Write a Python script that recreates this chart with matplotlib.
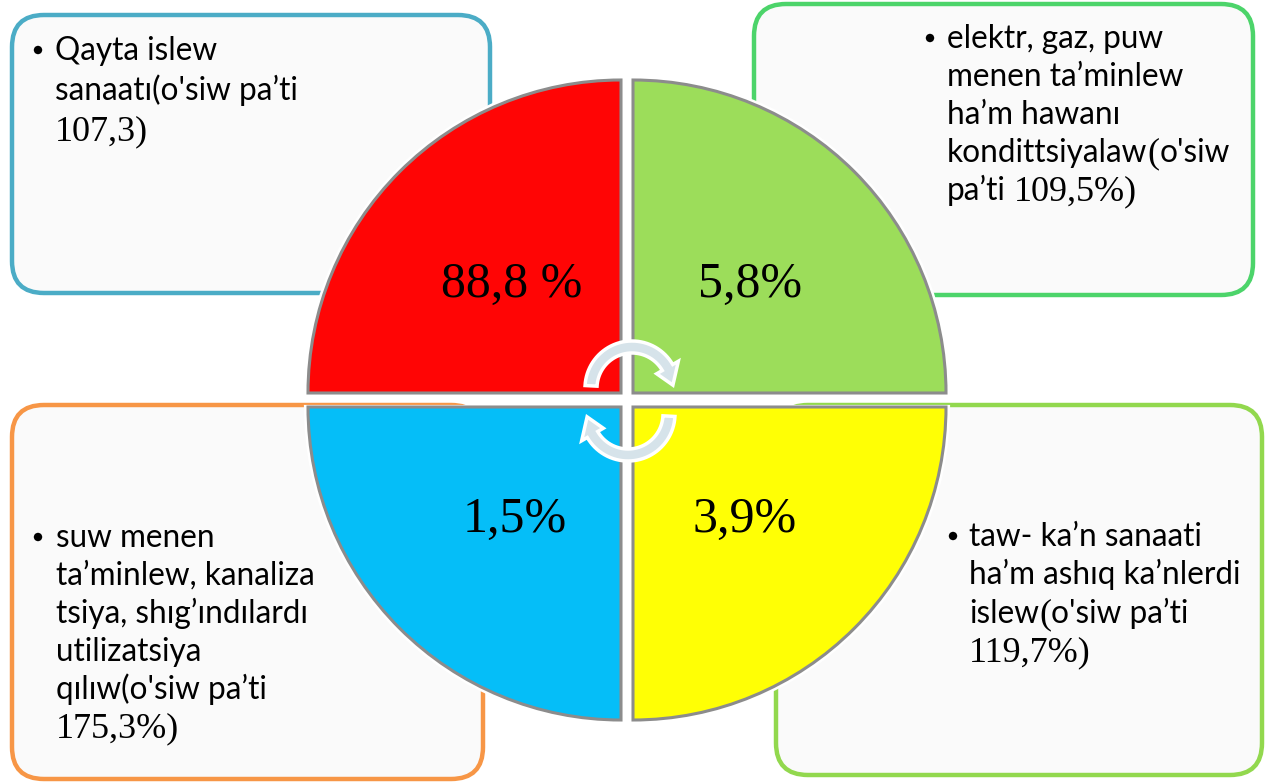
import matplotlib.pyplot as plt
from matplotlib.patches import FancyBboxPatch, Wedge, Polygon, Circle
import numpy as np

SANS = 'Lato'
SERIF = 'Liberation Serif'

# quadrant labels (top-left, top-right, bottom-left, bottom-right)
shares = ['88,8 %', '5,8%', '1,5%', '3,9%']
quad_colors = ['#FF0505', '#9CDD5A', '#05BEF8', '#FFFF05']

# text of the four boxes, each line a list of (text, font) pieces
box_tl = [[("Qayta islew", SANS)],
          [("sanaatı(o'siw pa’ti", SANS)],
          [("107,3)", SERIF)]]
box_tr = [[("elektr, gaz, puw", SANS)],
          [("menen ta’minlew", SANS)],
          [("ha’m hawanı", SANS)],
          [("kondittsiyalaw", SANS), ("(", SERIF), ("o'siw", SANS)],
          [("pa’ti ", SANS), ("109,5%)", SERIF)]]
box_bl = [[("suw menen", SANS)],
          [("ta’minlew, kanaliza", SANS)],
          [("tsiya, shıg’ındılardı", SANS)],
          [("utilizatsiya", SANS)],
          [("qılıw(o'siw pa’ti", SANS)],
          [("175,3%)", SERIF)]]
box_br = [[("taw- ka’n sanaati", SANS)],
          [("ha’m ashıq ka’nlerdi", SANS)],
          [("islew", SANS), ("(", SERIF), ("o'siw pa’ti", SANS)],
          [("119,7%)", SERIF)]]

W, H = 1265, 782
fig = plt.figure(figsize=(W / 100, H / 100), dpi=100)
ax = fig.add_axes([0, 0, 1, 1])
ax.set_xlim(0, W)
ax.set_ylim(H, 0)
ax.axis('off')

# rounded boxes: x0, y0, x1, y1, edge colour
boxes = [(12, 15, 490, 293, '#4BACC6'),
         (754, 4, 1253, 295, '#4CD46A'),
         (12, 405, 483, 779, '#F79646'),
         (776, 405, 1262, 775, '#92D84E')]
for x0, y0, x1, y1, ec in boxes:
    ax.add_patch(FancyBboxPatch((x0, y0), x1 - x0, y1 - y0,
                                boxstyle='round,pad=0,rounding_size=32',
                                fc='#FAFAFA', ec=ec, lw=3.2, zorder=1))

# quadrants of the circle
r = 313
centers = [(621, 393), (633, 393), (621, 407), (633, 407)]
angles = [(180, 270), (270, 360), (90, 180), (0, 90)]
for (cx, cy), (a0, a1), c in zip(centers, angles, quad_colors):
    ax.add_patch(Wedge((cx, cy), r + 2, a0, a1, fc='none', ec='white', lw=3, zorder=2))
    ax.add_patch(Wedge((cx, cy), r, a0, a1, fc=c, ec='#8C8C8C', lw=2.2, zorder=2))

label_pos = [(512, 297), (750, 297), (515, 532), (745, 532)]
for (x, y), s in zip(label_pos, shares):
    ax.text(x, y, s, family=SERIF, fontsize=36, ha='center', va='baseline', zorder=3)


def arc_arrow(cx, cy, rad, t0, t1, w, hw, hdeg):
    sgn = np.sign(t1 - t0)
    t = np.radians(np.linspace(t0, t1, 40))
    outer = np.c_[cx + (rad + w / 2) * np.cos(t), cy + (rad + w / 2) * np.sin(t)]
    inner = np.c_[cx + (rad - w / 2) * np.cos(t), cy + (rad - w / 2) * np.sin(t)][::-1]
    te = np.radians(t1)
    tt = np.radians(t1 + sgn * hdeg)
    head = np.array([[cx + (rad + hw / 2) * np.cos(te), cy + (rad + hw / 2) * np.sin(te)],
                     [cx + rad * np.cos(tt), cy + rad * np.sin(tt)],
                     [cx + (rad - hw / 2) * np.cos(te), cy + (rad - hw / 2) * np.sin(te)]])
    pts = np.vstack([outer, head, inner])
    ax.add_patch(Polygon(pts, closed=True, fc='#D6E3EA', ec='white', lw=2.5, zorder=4))


arc_arrow(632, 388, 41, 183, 330, 12, 25, 26)
arc_arrow(628, 414, 41, 3, 150, 12, 25, 26)

# box texts
renderer = fig.canvas.get_renderer()


def width(s, fam, size):
    t = ax.text(0, 0, s, family=fam, fontsize=size)
    w = t.get_window_extent(renderer).width
    t.remove()
    return w


SIZE = {SANS: 22.7, SERIF: 26}
space = {f: width('a a', f, SIZE[f]) - width('aa', f, SIZE[f]) for f in (SANS, SERIF)}

layout = [(box_tl, 38, 55, 60, 40),
          (box_tr, 930, 947, 48, 38),
          (box_bl, 38, 56, 547, 38),
          (box_br, 953, 969, 546, 38.5)]
for lines, bx, tx, y0, step in layout:
    ax.add_patch(Circle((bx, y0 - 10), 4.2, fc='black', ec='none', zorder=3))
    for i, line in enumerate(lines):
        x = tx
        y = y0 + i * step
        for s, fam in line:
            txt = s.rstrip(' ')
            ax.text(x, y, txt, family=fam, fontsize=SIZE[fam], ha='left',
                    va='baseline', zorder=3)
            x += width(txt, fam, SIZE[fam])
            if s.endswith(' '):
                x += space[fam]

fig.savefig('out.png', dpi=100)
